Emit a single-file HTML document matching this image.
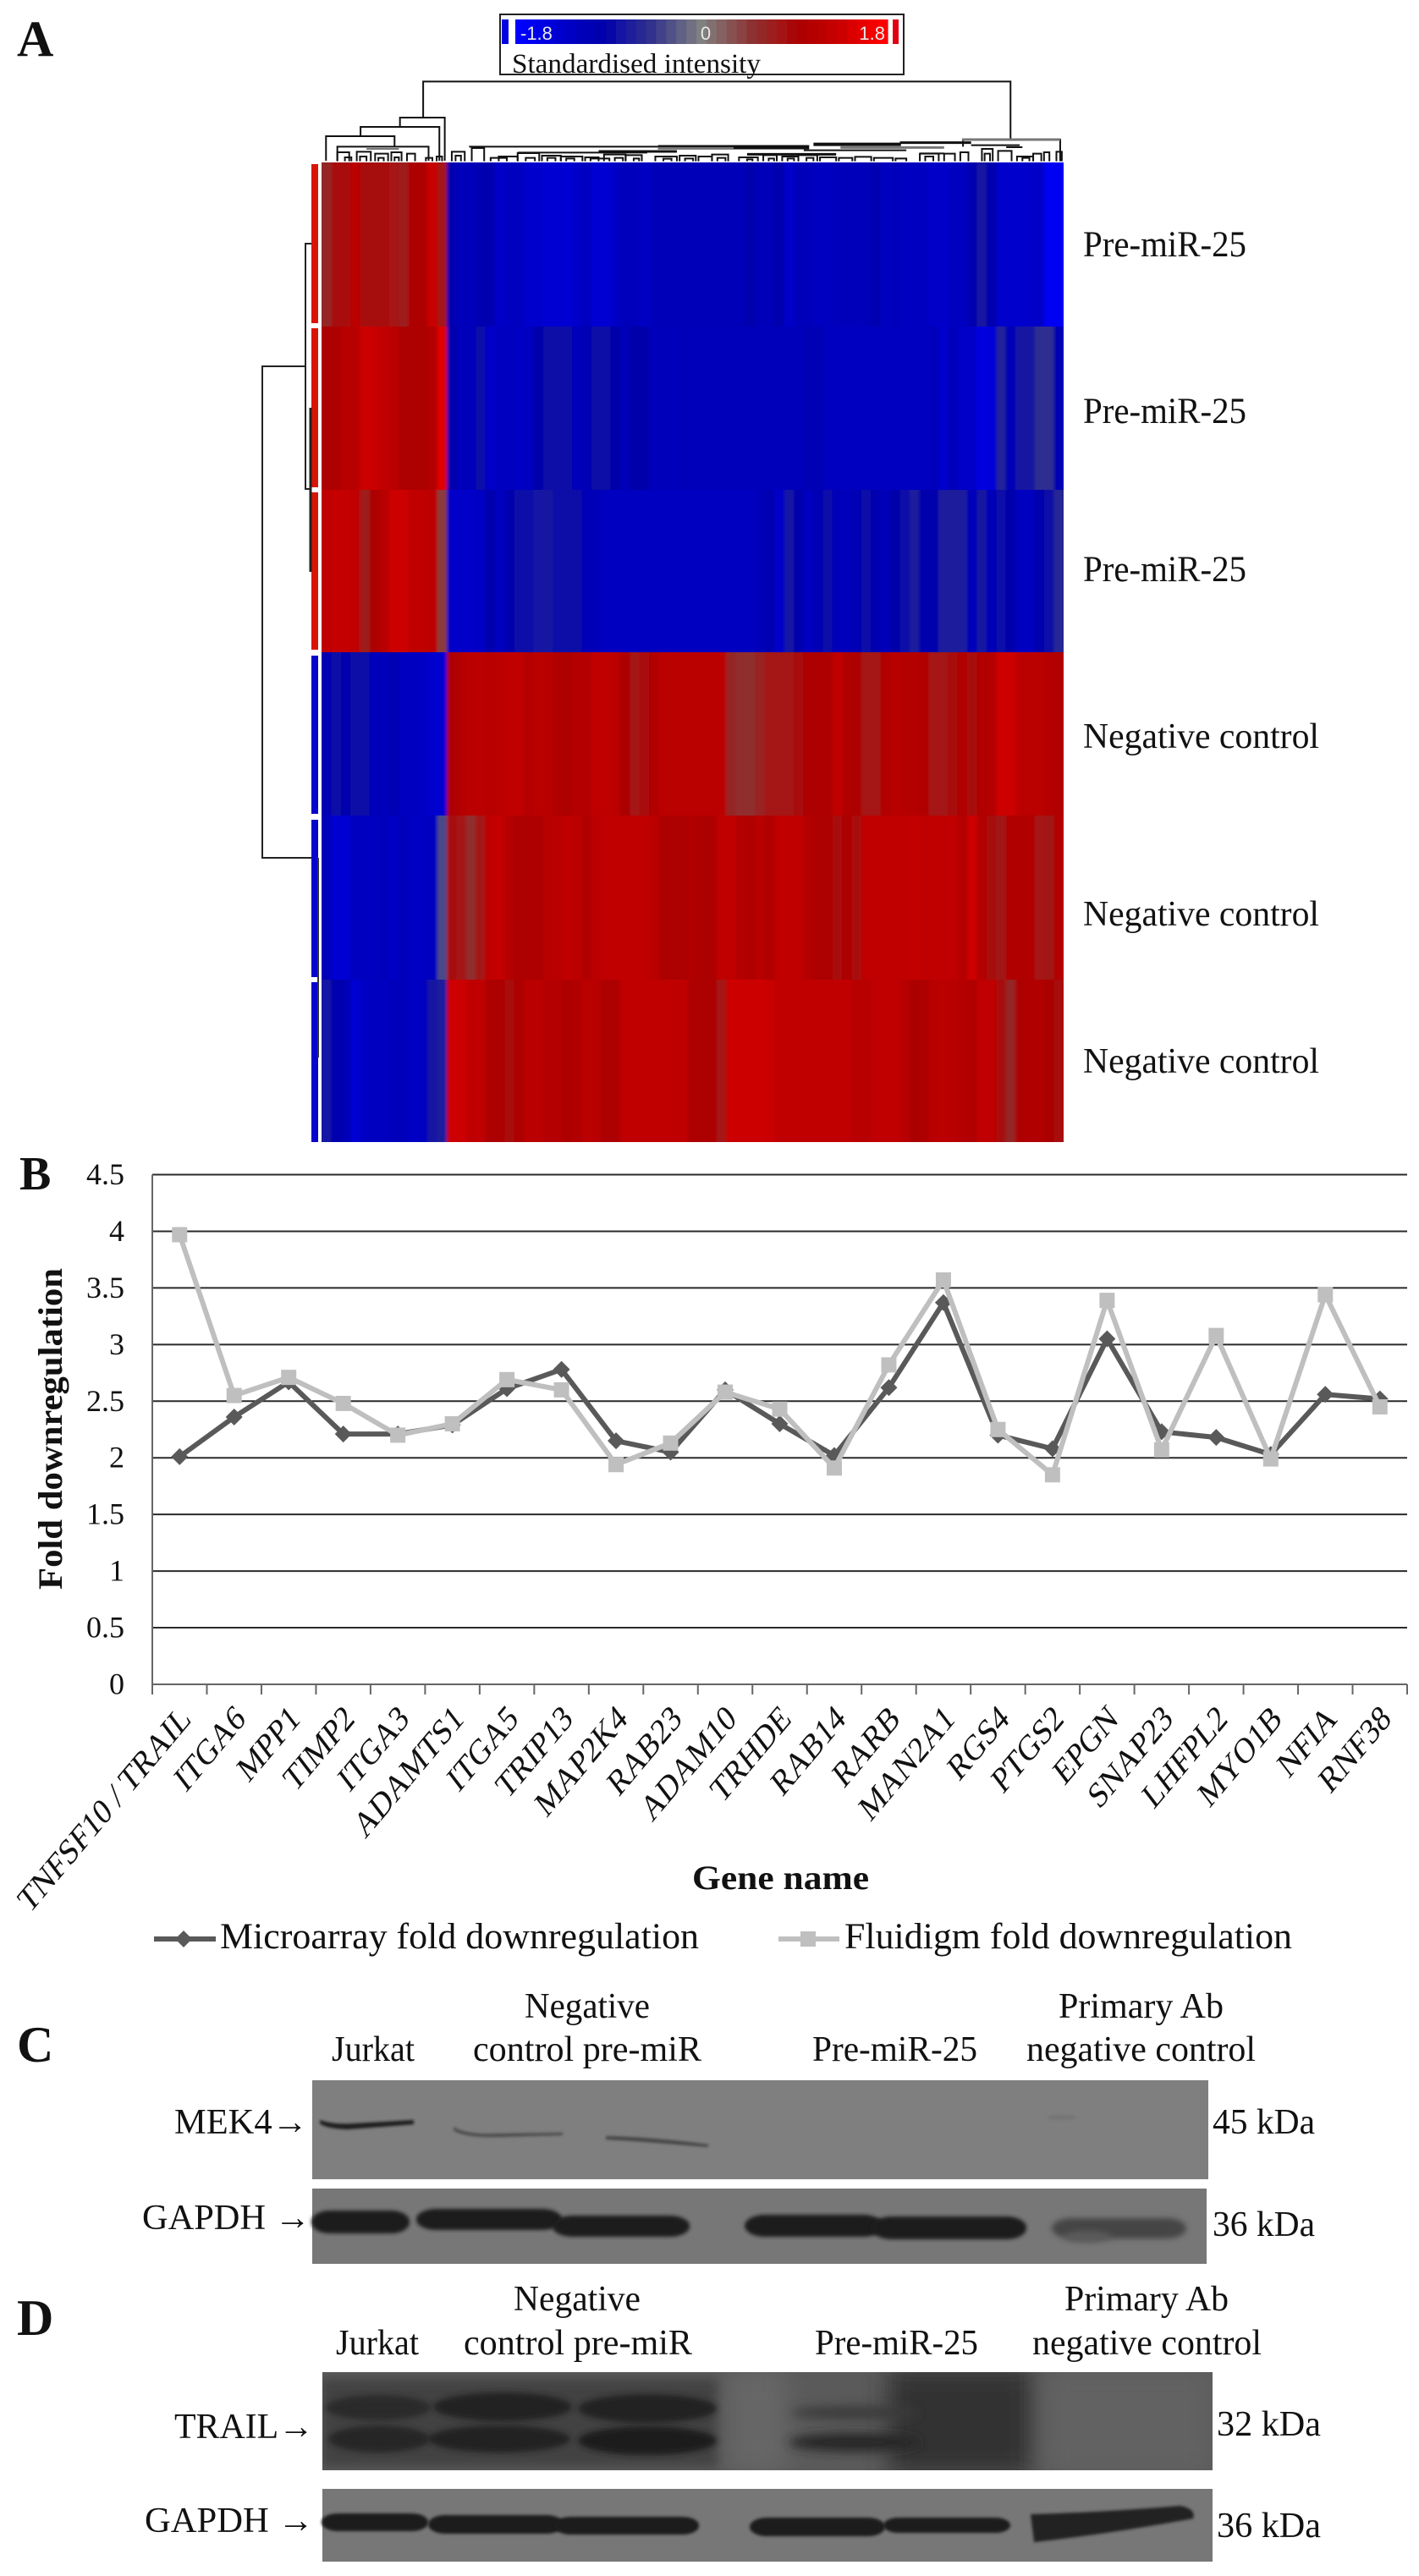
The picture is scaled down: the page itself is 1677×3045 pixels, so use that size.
<!DOCTYPE html>
<html lang="en">
<head>
<meta charset="utf-8">
<title>Pre-miR-25 heat map, fold downregulation chart and western blots</title>
<style>
html,body{margin:0;padding:0;background:#fff;}
svg{display:block;}
text{font-family:"Liberation Serif",serif;fill:#111;}
.sans{font-family:"Liberation Sans",sans-serif;}
</style>
</head>
<body>
<svg id="figure" xmlns="http://www.w3.org/2000/svg" width="1677" height="3045" viewBox="0 0 1677 3045">
  <defs>
    <filter id="rowBlur" filterUnits="userSpaceOnUse" x="340" y="150" width="960" height="1240"><feGaussianBlur stdDeviation="1.8 0"/></filter>
    <filter id="b1" x="-20%" y="-100%" width="140%" height="300%"><feGaussianBlur stdDeviation="1.6"/></filter>
    <filter id="b2" x="-20%" y="-100%" width="140%" height="300%"><feGaussianBlur stdDeviation="2.2"/></filter>
    <filter id="b3" x="-20%" y="-100%" width="140%" height="300%"><feGaussianBlur stdDeviation="3.5"/></filter>
    <filter id="b6" x="-20%" y="-100%" width="140%" height="300%"><feGaussianBlur stdDeviation="6"/></filter>
    <filter id="b14" x="-30%" y="-30%" width="160%" height="160%"><feGaussianBlur stdDeviation="14"/></filter>
    <clipPath id="heatClip"><rect x="380" y="192" width="877" height="1158"/></clipPath>
    <clipPath id="clipTrail"><rect x="381" y="2804" width="1052" height="116"/></clipPath>
  </defs>

  <!-- Panel letters -->
  <text x="20" y="66" font-size="60" font-weight="bold">A</text>
  <text x="23" y="1406" font-size="56" font-weight="bold">B</text>
  <text x="20" y="2437" font-size="60" font-weight="bold">C</text>
  <text x="20" y="2760" font-size="60" font-weight="bold">D</text>

  <!-- Colour legend -->
  <g id="colourLegend">
    <rect x="591" y="17" width="477" height="71" fill="#fff" stroke="#222" stroke-width="2"/>
    <rect x="593" y="23" width="8" height="29" fill="#0000e0"/>
    <rect x="1055" y="23" width="7" height="29" fill="#e00010"/>
  </g>

  <!-- Heat map goes here -->
  <g id="topDendrogram" fill="none" stroke="#111" stroke-width="2"></g>
  <g id="heatmapClip" clip-path="url(#heatClip)"><g id="heatmap" filter="url(#rowBlur)"></g></g>

  <g>
    <rect x="368" y="194" width="8" height="188" fill="#d81505"/>
    <rect x="368" y="388" width="8" height="188" fill="#d81505"/>
    <rect x="368" y="582" width="8" height="186" fill="#d81505"/>
    <rect x="368" y="775" width="8" height="187" fill="#0505cc"/>
    <rect x="368" y="969" width="8" height="186" fill="#0505cc"/>
    <rect x="368" y="1161" width="8" height="189" fill="#0505cc"/>
  </g>
  <g fill="none" stroke="#222" stroke-width="2">
    <path d="M361,433H310V1014H368"/>
    <path d="M368,288H361V578H368"/>
    <path d="M367,482V676" stroke-width="3"/>
    <path d="M376,1014V1250" stroke="#333" stroke-width="2"/>
  </g>

  <!-- Row labels -->
  <text x="1280" y="303" font-size="43" textLength="193" lengthAdjust="spacingAndGlyphs">Pre-miR-25</text>
  <text x="1280" y="500" font-size="43" textLength="193" lengthAdjust="spacingAndGlyphs">Pre-miR-25</text>
  <text x="1280" y="687" font-size="43" textLength="193" lengthAdjust="spacingAndGlyphs">Pre-miR-25</text>
  <text x="1280" y="884" font-size="42" textLength="279" lengthAdjust="spacingAndGlyphs">Negative control</text>
  <text x="1280" y="1094" font-size="42" textLength="279" lengthAdjust="spacingAndGlyphs">Negative control</text>
  <text x="1280" y="1268" font-size="42" textLength="279" lengthAdjust="spacingAndGlyphs">Negative control</text>

  <!-- Line chart -->
  <g id="lineChart"></g>
  <text transform="translate(73,1879) rotate(-90)" font-size="40" font-weight="bold" textLength="380" lengthAdjust="spacingAndGlyphs">Fold downregulation</text>
  <text x="818" y="2233" font-size="40" font-weight="bold" textLength="209" lengthAdjust="spacingAndGlyphs">Gene name</text>
  <text x="260" y="2303" font-size="43" textLength="566" lengthAdjust="spacingAndGlyphs">Microarray fold downregulation</text>
  <text x="998" y="2303" font-size="43" textLength="529" lengthAdjust="spacingAndGlyphs">Fluidigm fold downregulation</text>

  <!-- Panel C labels -->
  <g font-size="42">
    <text x="620" y="2385" textLength="148" lengthAdjust="spacingAndGlyphs">Negative</text>
    <text x="1251" y="2385" textLength="195" lengthAdjust="spacingAndGlyphs">Primary Ab</text>
    <text x="392" y="2436" textLength="98" lengthAdjust="spacingAndGlyphs">Jurkat</text>
    <text x="559" y="2436" textLength="270" lengthAdjust="spacingAndGlyphs">control pre-miR</text>
    <text x="960" y="2436" textLength="195" lengthAdjust="spacingAndGlyphs">Pre-miR-25</text>
    <text x="1213" y="2436" textLength="271" lengthAdjust="spacingAndGlyphs">negative control</text>
    <text x="206" y="2522" textLength="158" lengthAdjust="spacingAndGlyphs">MEK4→</text>
    <text x="1433" y="2522" textLength="121" lengthAdjust="spacingAndGlyphs">45 kDa</text>
    <text x="168" y="2635" textLength="199" lengthAdjust="spacingAndGlyphs">GAPDH →</text>
    <text x="1433" y="2643" textLength="121" lengthAdjust="spacingAndGlyphs">36 kDa</text>
  </g>

  <!-- Panel C blots -->
  <g>
    <rect x="369" y="2459" width="1059" height="117" fill="#7f7f7f"/>
    <path d="M378,2506 Q395,2512 420,2510 L489,2506 L489,2511 Q440,2515 410,2517 Q385,2516 378,2510Z" fill="#1c1c1c" filter="url(#b1)"/>
    <path d="M536,2514 Q550,2524 590,2522 L666,2521 L664,2524 L590,2526 Q548,2527 536,2518Z" fill="#484848" filter="url(#b1)"/>
    <path d="M716,2525 Q770,2526 838,2535 L836,2538 Q770,2532 716,2529Z" fill="#444" filter="url(#b1)"/>
    <ellipse cx="1255" cy="2503" rx="18" ry="3" fill="#747474" filter="url(#b1)"/>
  </g>
  <g>
    <rect x="369" y="2587" width="1057" height="89" fill="#777"/>
    <rect x="368" y="2613" width="116" height="27" rx="22" ry="13" fill="#1b1b1b" filter="url(#b2)"/>
    <rect x="492" y="2611" width="172" height="25" rx="24" ry="12" fill="#1b1b1b" filter="url(#b2)"/>
    <rect x="653" y="2619" width="162" height="25" rx="24" ry="12" fill="#1b1b1b" filter="url(#b2)"/>
    <rect x="880" y="2618" width="164" height="26" rx="24" ry="13" fill="#1b1b1b" filter="url(#b2)"/>
    <rect x="1030" y="2620" width="183" height="27" rx="24" ry="13" fill="#1b1b1b" filter="url(#b2)"/>
    <rect x="1243" y="2622" width="159" height="24" rx="24" ry="12" fill="#454545" filter="url(#b3)"/>
    <ellipse cx="1285" cy="2644" rx="28" ry="7" fill="#5a5a5a" filter="url(#b3)"/>
  </g>

  <!-- Panel D labels -->
  <g font-size="42">
    <text x="607" y="2731" textLength="150" lengthAdjust="spacingAndGlyphs">Negative</text>
    <text x="1258" y="2731" textLength="194" lengthAdjust="spacingAndGlyphs">Primary Ab</text>
    <text x="397" y="2783" textLength="98" lengthAdjust="spacingAndGlyphs">Jurkat</text>
    <text x="548" y="2783" textLength="270" lengthAdjust="spacingAndGlyphs">control pre-miR</text>
    <text x="963" y="2783" textLength="193" lengthAdjust="spacingAndGlyphs">Pre-miR-25</text>
    <text x="1220" y="2783" textLength="271" lengthAdjust="spacingAndGlyphs">negative control</text>
    <text x="206" y="2882" textLength="165" lengthAdjust="spacingAndGlyphs">TRAIL→</text>
    <text x="1438" y="2879" textLength="123" lengthAdjust="spacingAndGlyphs">32 kDa</text>
    <text x="171" y="2993" textLength="200" lengthAdjust="spacingAndGlyphs">GAPDH →</text>
    <text x="1438" y="2999" textLength="123" lengthAdjust="spacingAndGlyphs">36 kDa</text>
  </g>

  <!-- Panel D blots -->
  <g clip-path="url(#clipTrail)">
    <rect x="381" y="2804" width="1052" height="116" fill="#5a5a5a"/>
    <rect x="380" y="2812" width="470" height="104" fill="#434343" filter="url(#b6)"/>
    <rect x="860" y="2800" width="70" height="124" fill="#666" filter="url(#b14)"/>
    <rect x="1050" y="2800" width="170" height="124" fill="#333" filter="url(#b14)"/>
    <rect x="1232" y="2800" width="200" height="124" fill="#626262" filter="url(#b14)"/>
    <ellipse cx="447" cy="2846" rx="62" ry="15" fill="#2b2b2b" filter="url(#b3)"/>
    <ellipse cx="594" cy="2845" rx="82" ry="17" fill="#222" filter="url(#b3)"/>
    <ellipse cx="765" cy="2847" rx="82" ry="17" fill="#222" filter="url(#b3)"/>
    <ellipse cx="448" cy="2883" rx="60" ry="16" fill="#282828" filter="url(#b3)"/>
    <ellipse cx="590" cy="2883" rx="84" ry="16" fill="#222" filter="url(#b3)"/>
    <ellipse cx="765" cy="2885" rx="82" ry="17" fill="#1e1e1e" filter="url(#b3)"/>
    <ellipse cx="1010" cy="2852" rx="76" ry="8" fill="#3a3a3a" filter="url(#b6)"/>
    <ellipse cx="1010" cy="2887" rx="78" ry="11" fill="#282828" filter="url(#b6)"/>
  </g>
  <g>
    <rect x="381" y="2942" width="1052" height="86" fill="#777"/>
    <rect x="380" y="2971" width="126" height="21" rx="20" ry="10" fill="#1c1c1c" filter="url(#b1)"/>
    <rect x="506" y="2973" width="160" height="22" rx="20" ry="11" fill="#1c1c1c" filter="url(#b1)"/>
    <rect x="655" y="2975" width="171" height="21" rx="20" ry="10" fill="#1c1c1c" filter="url(#b1)"/>
    <rect x="886" y="2976" width="160" height="22" rx="20" ry="11" fill="#1c1c1c" filter="url(#b1)"/>
    <rect x="1044" y="2976" width="150" height="18" rx="18" ry="9" fill="#1c1c1c" filter="url(#b1)"/>
    <path d="M1218,2972 Q1300,2970 1395,2962 Q1414,2966 1410,2977 Q1320,2994 1222,3005Z" fill="#202020" filter="url(#b1)"/>
  </g>
</svg>
<script>
// ---------- Heat map data (standardised intensity per column) ----------
const heatmapRow1 = [.6,.85,.85,1.2,.82,.82,.9,.8,.72,1.0,1.0,1.35,.8,
  -1.05,-1.2,-1.2,-1.05,-1.05,-1.35,-1.25,-1.25,-1.4,-1.4,
  -1.45,-1.45,-1.45,-1.35,-1.25,-1.45,-1.45,-1.3,-1.2,-1.2,
  -1.3,-1.2,-1.15,-1.15,-1.15,-1.15,-1.15,-1.15,-1.15,-1.15,
  -1.15,-1.0,-1.15,-1.15,-1.0,-1.35,-1.2,-1.2,-1.25,-1.25,
  -1.2,-1.2,-1.2,-1.15,-1.05,-1.25,-1.2,-1.25,-1.25,-1.25,
  -1.35,-1.35,-1.25,-1.25,-1.05,-.75,-1.0,-1.4,-1.4,-1.4,
  -1.35,-1.35,-1.7,-1.7];
const heatmapRow2 = [1.0,1.0,1.15,1.15,1.4,1.35,1.25,1.2,1.0,1.0,1.0,1.1,1.55,
  -1.0,-1.2,-1.2,-.9,-1.35,-1.25,-1.25,-1.3,-1.25,-.95,
  -.85,-.9,-.9,-1.2,-1.1,-.85,-.85,-.95,-1.15,-.95,
  -.95,-1.2,-1.15,-1.2,-1.15,-1.2,-1.15,-1.2,-1.15,-1.2,
  -1.2,-1.2,-1.2,-1.2,-1.2,-1.2,-1.2,-1.1,-1.1,-1.25,
  -1.25,-1.25,-1.25,-1.25,-1.25,-1.25,-1.25,-1.25,-1.25,-1.25,
  -1.2,-1.4,-1.15,-1.35,-1.35,-1.55,-1.5,-.65,-1.15,-.75,
  -.75,-.55,-.55,-1.1];
const heatmapRow3 = [1.25,1.3,1.3,1.25,.7,1.0,1.15,1.4,1.4,1.25,1.25,1.2,.45,
  -1.35,-1.35,-1.35,-1.3,-1.0,-1.25,-1.0,-.9,-.9,-.8,
  -.75,-.85,-.85,-.85,-1.15,-1.15,-1.25,-1.25,-1.25,-1.25,
  -1.25,-1.25,-1.25,-1.25,-1.25,-1.25,-1.25,-1.25,-1.25,-1.25,
  -1.25,-1.25,-1.2,-1.05,-1.35,-.8,-1.0,-1.25,-1.1,-.9,
  -1.15,-1.2,-1.1,-.9,-1.05,-1.15,-.95,-.9,-.7,-1.0,
  -1.0,-.7,-.7,-.7,-1.2,-.75,-1.15,-.9,-.95,-1.25,
  -1.25,-1.0,-.85,-.6];
const heatmapRow4 = [-1.1,-.85,-1.0,-.85,-.9,-1.2,-1.2,-1.1,-1.25,-1.25,-1.3,-1.4,-1.45,
  1.0,1.1,1.2,1.2,1.15,1.2,1.25,1.25,1.1,1.2,
  1.15,1.05,1.0,1.1,1.1,1.25,1.25,1.2,.95,.8,
  .85,1.05,1.2,1.2,1.2,1.2,1.2,1.2,1.2,.6,
  .55,.55,.65,.8,.8,.8,.85,1.0,1.0,1.0,
  1.25,1.05,1.0,.8,.8,1.05,1.15,1.1,1.1,1.05,
  .8,.8,.85,1.05,.85,1.05,1.1,1.4,1.4,1.2,
  1.2,1.2,1.1,1.05];
const heatmapRow5 = [-1.15,-1.45,-1.45,-1.25,-1.25,-1.25,-1.2,-1.3,-1.2,-1.3,-1.3,-1.25,-.35,
  .85,.8,.55,.8,1.25,1.3,1.1,1.0,1.0,1.0,
  1.15,1.2,1.25,1.2,1.05,1.2,1.25,1.25,1.25,1.25,
  1.25,1.2,1.0,1.0,1.0,1.05,1.0,1.0,1.25,1.25,
  1.1,1.05,1.15,1.05,1.25,1.25,1.25,1.1,1.0,1.0,
  .9,1.0,.85,1.25,1.25,1.25,1.25,1.25,1.28,1.25,
  1.25,1.25,1.25,1.1,1.4,1.1,.85,.75,1.05,1.05,
  1.05,.8,.75,1.1];
const heatmapRow6 = [-.8,-1.0,-1.1,-1.45,-1.3,-1.25,-1.25,-1.2,-1.2,-1.3,-1.25,-.75,-.7,
  1.4,1.4,1.25,1.25,1.0,1.0,.9,1.0,1.2,1.2,
  1.1,1.1,1.0,1.05,1.2,1.15,1.0,1.0,1.25,1.25,
  1.25,1.25,1.25,1.25,1.25,1.0,1.0,1.0,.8,1.4,
  1.4,1.4,1.4,1.35,1.25,1.25,1.25,1.25,1.25,1.25,
  1.25,1.25,1.15,1.15,1.25,1.25,1.25,1.15,.95,1.0,
  1.15,1.2,1.15,1.1,1.05,1.25,1.25,.85,.6,1.0,
  1.05,1.05,.95,.85];
const heatmapRows = [heatmapRow1, heatmapRow2, heatmapRow3, heatmapRow4, heatmapRow5, heatmapRow6];
const legendScaleValues = [-1.8,-1.7,-1.6,-1.5,-1.4,-1.3,-1.2,-1.1,-1.0,-.9,-.8,-.7,-.6,-.5,-.4,-.3,-.2,-.1,0,.1,.2,.3,.4,.5,.6,.7,.8,.9,1.0,1.1,1.2,1.3,1.4,1.5,1.6,1.7,1.8];
const legendTickLabels = ['-1.8','0','1.8'];
const legendTickValues = [-1.8,0,1.8];

// ---------- Line chart data ----------
const geneCategories = ['TNFSF10 / TRAIL','ITGA6','MPP1','TIMP2','ITGA3','ADAMTS1','ITGA5','TRIP13','MAP2K4','RAB23','ADAM10','TRHDE','RAB14','RARB','MAN2A1','RGS4','PTGS2','EPGN','SNAP23','LHFPL2','MYO1B','NFIA','RNF38'];
const microarrayValues = [2.01,2.36,2.67,2.21,2.21,2.29,2.61,2.78,2.15,2.05,2.6,2.3,2.02,2.62,3.37,2.2,2.08,3.05,2.23,2.18,2.03,2.56,2.52];
const fluidigmValues = [3.97,2.55,2.71,2.48,2.2,2.3,2.69,2.6,1.94,2.13,2.58,2.43,1.91,2.82,3.57,2.25,1.85,3.39,2.07,3.08,1.99,3.44,2.45];
const yTickValues = [0,0.5,1,1.5,2,2.5,3,3.5,4,4.5];
const yTickLabels = ['0','0.5','1','1.5','2','2.5','3','3.5','4','4.5'];

// ---------- Dendrogram outline (traced segments, in zoomed reference units) ----------
const dendroMainPaths = [
  'M345,417V289H1433V495',
  'M302,450V417H385V570',
  'M229,483V450H375V570',
  'M165,570V483H292V520',
  'M186,570V520H355V570',
  'M1345,520V495H1525V572'
];
const dendroHeavySegments = [
  [430,520,780,2],[780,522,1060,5],[1068,512,1230,4],[1228,506,1360,3],[520,541,760,2],[670,537,815,3],[945,547,1110,3],[1050,533,1240,2],[1265,544,1310,2],[1360,515,1450,2],[1425,522,1455,2]
];
const dendroGreySegments = [
  [1343,495,1525,3],[1118,523,1310,3],[780,526,920,3],[240,528,300,2]
];
const dendroUShapes = [
  [186,208,540],[200,212,558],[222,248,538],[228,240,555],[256,280,545],[262,272,560],[286,305,540],[292,300,558],[315,330,545],[350,362,560],[370,380,555],
  [398,422,538],[405,415,552],[435,458,525],[470,500,560],[485,520,555],[520,560,543],[535,552,560],[565,600,552],[575,590,560],[600,640,555],[610,625,562],[645,670,558],[655,690,562],[680,720,548],[700,715,560],[720,750,550],[735,745,562],[775,815,555],[790,805,563],[820,850,552],[830,845,562],[855,880,555],[880,910,548],[890,905,560],[930,965,558],[945,955,565],[975,1000,550],[985,995,562],[1010,1040,555],[1020,1032,562],[1040,1075,550],[1055,1068,560],[1080,1110,558],[1115,1140,560],[1145,1175,556],[1180,1215,560],[1220,1240,562],[1265,1300,545],[1275,1290,555],[1310,1330,545],[1340,1355,540],[1380,1400,528],[1385,1395,545],[1410,1435,535],[1445,1475,555],[1455,1468,560],[1475,1490,545],[1495,1505,540],[1518,1528,538]
];

const NS = 'http://www.w3.org/2000/svg';
function make(tag, parent, attrs, text) {
  const el = document.createElementNS(NS, tag);
  for (const k in attrs) el.setAttribute(k, attrs[k]);
  if (text !== undefined) el.textContent = text;
  parent.appendChild(el);
  return el;
}

// ---------- Colour scale ----------
const colourStops = [
  [0,128,128,128],[.5,140,50,50],[.8,165,20,20],[.95,170,0,0],[1.2,187,0,0],[1.4,205,0,0],[1.8,255,0,0]
];
function colourOf(v) {
  const a = Math.min(Math.abs(v), 1.8);
  let i = 0;
  while (i < colourStops.length - 2 && a > colourStops[i + 1][0]) i++;
  const s = colourStops[i], e = colourStops[i + 1];
  const t = (a - s[0]) / (e[0] - s[0]);
  const m = j => Math.round(s[j] + (e[j] - s[j]) * t);
  return v >= 0 ? `rgb(${m(1)},${m(2)},${m(3)})` : `rgb(${m(3)},${m(2)},${m(1)})`;
}

// ---------- Heat map ----------
const heatX0 = 380, heatX1 = 1257, heatY0 = 192, heatY1 = 1350;
const heatYEdges = [192, 386, 579, 771, 964, 1158, 1350];
const heatGroup = document.getElementById('heatmap');
function colX(i, n) { return heatX0 + (heatX1 - heatX0) * i / n; }
heatmapRows.forEach((row, r) => {
  const n = row.length;
  const y = heatYEdges[r], h = heatYEdges[r + 1] - heatYEdges[r];
  const g = make('g', heatGroup, {});
  
  
  const padL = make('rect', g, {x: heatX0 - 20, y: y, width: 21, height: h, fill: colourOf(row[0])});
  
  
  const padR = make('rect', g, {x: heatX1 - 1, y: y, width: 21, height: h, fill: colourOf(row[n - 1])});
  
  
  row.forEach((v, c) => {
    const cell = make('rect', g, {x: colX(c, n), y: y, width: (heatX1 - heatX0) / n + .6, height: h, fill: colourOf(v)});
    
    
  });
});

// ---------- Colour legend bar ----------
const legendGroup = document.getElementById('colourLegend');
const legX0 = 609, legX1 = 1049;
function legX(v) { return legX0 + (v + 1.8) / 3.6 * (legX1 - legX0); }
legendScaleValues.forEach((v, i) => {
  const w = (legX1 - legX0) / (legendScaleValues.length);
  const seg = make('rect', legendGroup, {x: legX0 + i * w, y: 23, width: w + .6, height: 29, fill: colourOf(v)});
  
  
});
legendTickLabels.forEach((t, i) => {
  const v = legendTickValues[i];
  const anchor = i === 0 ? 'start' : (i === 1 ? 'middle' : 'end');
  const lx = i === 0 ? legX(v) + 6 : (i === 1 ? legX(v) + 5 : legX(v) - 3);
  const lab = make('text', legendGroup, {x: lx, y: 47, 'font-size': 22, 'text-anchor': anchor, 'class': 'sans', style: 'fill:#e8e8e8'}, t);
  
  
});
const legTitle = make('text', legendGroup, {x: 605, y: 86, 'font-size': 33, textLength: 294, lengthAdjust: 'spacingAndGlyphs'}, 'Standardised intensity');



// ---------- Gene dendrogram ----------
const dg = document.getElementById('topDendrogram');
const dendroInner = make('g', dg, {transform: 'translate(280,0) scale(.638,.3333)'});


dendroMainPaths.forEach(d => {
  const p = make('path', dendroInner, {d: d, 'vector-effect': 'non-scaling-stroke'});
  
  
});
dendroUShapes.forEach(u => {
  const p = make('path', dendroInner, {d: `M${u[0]},572V${u[2]}H${u[1]}V572`, 'vector-effect': 'non-scaling-stroke'});
  
  
});
dendroHeavySegments.forEach(s => {
  const p = make('path', dendroInner, {d: `M${s[0]},${s[1]}H${s[2]}`, 'vector-effect': 'non-scaling-stroke', 'stroke-width': s[3]});
  
  
});
dendroGreySegments.forEach(s => {
  const p = make('path', dendroInner, {d: `M${s[0]},${s[1]}H${s[2]}`, 'vector-effect': 'non-scaling-stroke', 'stroke-width': s[3], stroke: '#777'});
  
  
});

// ---------- Line chart ----------
const chart = document.getElementById('lineChart');
const plotL = 180, plotR = 1663, plotBottom = 1991, plotTop = 1388.5, yMax = 4.5;
function xScale(i) { return plotL + (i + .5) * (plotR - plotL) / geneCategories.length; }
function yScale(v) { return plotBottom - v / yMax * (plotBottom - plotTop); }

yTickValues.forEach((v, i) => {
  const y = yScale(v);
  const line = make('line', chart, {x1: plotL, x2: plotR, y1: y, y2: y, stroke: v === 0 ? '#666' : '#2a2a2a', 'stroke-width': 2});
  
  
  const lab = make('text', chart, {x: 147, y: y + 11.5, 'font-size': 36, 'text-anchor': 'end'}, yTickLabels[i]);
  
  
});
const yAxis = make('line', chart, {x1: plotL, x2: plotL, y1: plotTop, y2: plotBottom, stroke: '#666', 'stroke-width': 2});


for (let i = 0; i <= geneCategories.length; i++) {
  const x = plotL + i * (plotR - plotL) / geneCategories.length;
  const tick = make('line', chart, {x1: x, x2: x, y1: plotBottom, y2: plotBottom + 12, stroke: '#666', 'stroke-width': 2});
  
  
}
geneCategories.forEach((c, i) => {
  const lab = make('text', chart, {transform: `translate(${xScale(i) + 15},2034) scale(1,1.25) rotate(-43.6)`, 'font-size': 34.5, 'text-anchor': 'end'}, c);
  
  
});
function diamond(parent, x, y, fill) {
  return make('polygon', parent, {points: `${x},${y - 10} ${x + 10},${y} ${x},${y + 10} ${x - 10},${y}`, fill: fill});
}
function square(parent, x, y, fill) {
  return make('rect', parent, {x: x - 9, y: y - 9, width: 18, height: 18, fill: fill});
}
const microColour = '#595959', fluidColour = '#bfbfbf';
const microLine = make('polyline', chart, {points: microarrayValues.map((v, i) => `${xScale(i)},${yScale(v)}`).join(' '), fill: 'none', stroke: microColour, 'stroke-width': 6, 'stroke-linejoin': 'round'});


microarrayValues.forEach((v, i) => {
  const m = diamond(chart, xScale(i), yScale(v), microColour);
  
  
});
const fluidLine = make('polyline', chart, {points: fluidigmValues.map((v, i) => `${xScale(i)},${yScale(v)}`).join(' '), fill: 'none', stroke: fluidColour, 'stroke-width': 6, 'stroke-linejoin': 'round'});


fluidigmValues.forEach((v, i) => {
  const m = square(chart, xScale(i), yScale(v), fluidColour);
  
  
});

// Legend samples
const sampleA = make('line', chart, {x1: 182, x2: 255, y1: 2292, y2: 2292, stroke: microColour, 'stroke-width': 6});


const markA = diamond(chart, 217, 2292, microColour);


const sampleB = make('line', chart, {x1: 920, x2: 992, y1: 2292, y2: 2292, stroke: fluidColour, 'stroke-width': 6});


const markB = square(chart, 955, 2292, fluidColour);


</script>
</body>
</html>
